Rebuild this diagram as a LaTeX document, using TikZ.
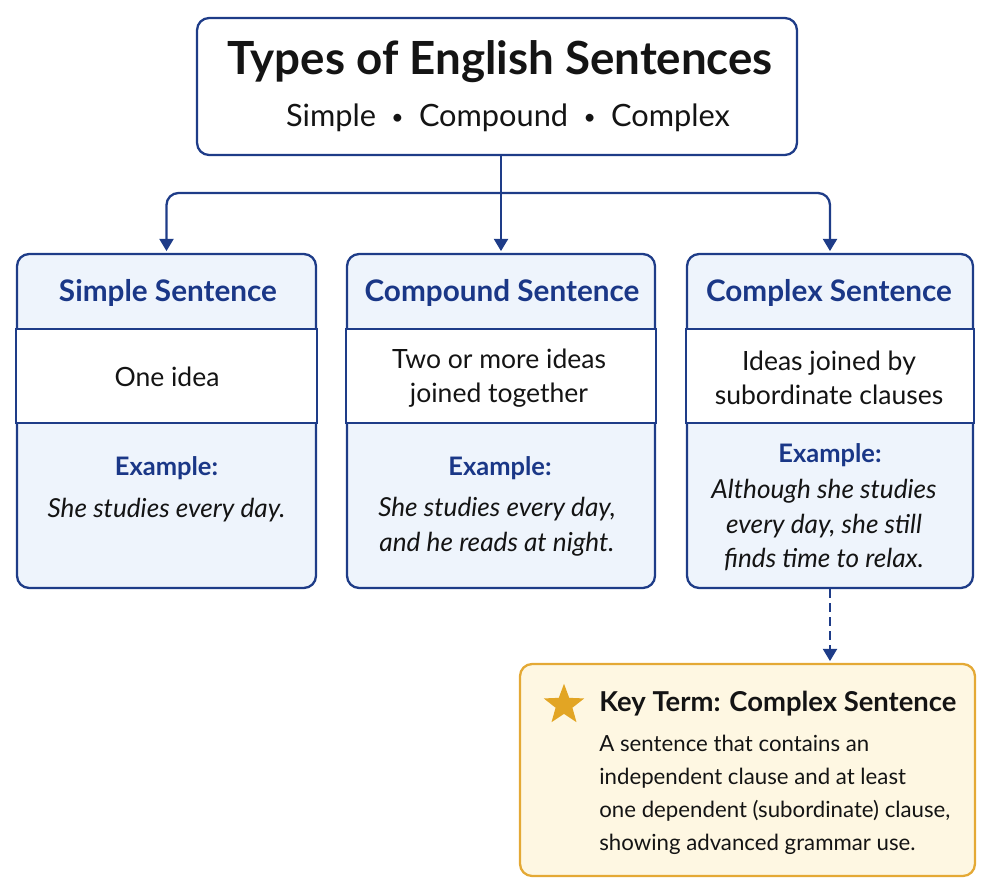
\documentclass[tikz,border=0pt]{standalone}
\usepackage{fontspec}
\setmainfont{Lato}
\usetikzlibrary{arrows.meta,shapes.geometric}
\definecolor{navy}{HTML}{1E3C88}
\definecolor{headblue}{HTML}{1A3787}
\definecolor{paleblue}{HTML}{EEF4FC}
\definecolor{cream}{HTML}{FEF7E2}
\definecolor{amber}{HTML}{E4A935}
\definecolor{gold}{HTML}{E2A524}
\definecolor{ink}{HTML}{141414}
\newcommand{\dotsep}{\enspace{\fontsize{12}{12}\selectfont\raisebox{0.12em}{•}}\enspace}
\begin{document}
\begin{tikzpicture}
    [%%%%%%%%%%%%%%%%%%%%%%%%%%%%%%
        x=0.02cm, y=-0.02cm,
        titlebox/.style={rectangle,draw=navy,line width=1.3pt,rounded corners=0.24cm,fill=white},
        card/.style={rectangle,draw=navy,line width=1.3pt,rounded corners=0.24cm,fill=paleblue},
        band/.style={draw=navy,line width=1.3pt,fill=white},
        keybox/.style={rectangle,draw=amber,line width=1.3pt,rounded corners=0.24cm,fill=cream},
        maintitle/.style={font=\bfseries\fontsize{26}{30}\selectfont,text=ink},
        subtitle/.style={font=\fontsize{17.5}{22}\selectfont,text=ink},
        head/.style={font=\bfseries\fontsize{16.9}{21}\selectfont,text=headblue},
        body/.style={font=\fontsize{15.1}{19.4}\selectfont,text=ink,align=center},
        exlabel/.style={font=\bfseries\fontsize{14.5}{18}\selectfont,text=headblue},
        extext/.style={font=\itshape\fontsize{14.9}{19.9}\selectfont,text=ink,align=center},
        keyhead/.style={font=\bfseries\fontsize{15.6}{19}\selectfont,text=ink,inner sep=0pt},
        keybody/.style={font=\fontsize{12.65}{18.8}\selectfont,text=ink,align=left,inner sep=0pt},
        link/.style={draw=navy,line width=1.3pt,-{Triangle[width=8pt,length=7pt]},shorten >=1pt},
    ]%%%%%%%%%%%%%%%%%%%%%%%%%%%%%%
    \useasboundingbox (0,0) rectangle (994,895);

    % title
    \node[titlebox, minimum width=12cm, minimum height=2.74cm] (title) at (497,86.5) {};
    \node[maintitle] (titletext) at (500,62) {Types of English Sentences};
    \node[subtitle] (subtext) at (508,118) {Simple\dotsep Compound\dotsep Complex};

    % the three cards
    \node[card, minimum width=5.98cm, minimum height=6.68cm] (simple) at (166.5,421) {};
    \node[card, minimum width=6.16cm, minimum height=6.68cm] (compound) at (501,421) {};
    \node[card, minimum width=5.72cm, minimum height=6.68cm] (complex) at (830,421) {};

    \draw[band] (simple.west |- 0,329) rectangle (simple.east |- 0,423);
    \draw[band] (compound.west |- 0,329) rectangle (compound.east |- 0,423);
    \draw[band] (complex.west |- 0,329) rectangle (complex.east |- 0,423);

    \node[head] (simplehead) at (168,293) {Simple Sentence};
    \node[body] (simpleidea) at (167,377) {One idea};
    \node[exlabel] (simpleex) at (166.5,468) {Example:};
    \node[extext] (simpletext) at (166.5,510) {She studies every day.};

    \node[head] (compoundhead) at (502,293) {Compound Sentence};
    \node[body] (compoundidea) at (499,378) {Two or more ideas\\joined together};
    \node[exlabel] (compoundex) at (500,468) {Example:};
    \node[extext] (compoundtext) at (497,527) {She studies every day,\\and he reads at night.};

    \node[head] (complexhead) at (829,293) {Complex Sentence};
    \node[body] (compleximea) at (829,378) {Ideas joined by\\subordinate clauses};
    \node[exlabel] (complexex) at (830,455) {Example:};
    \node[extext] (complextext) at (824,525) {Although she studies\\every day, she still\\finds time to relax.};

    % connectors
    \coordinate (hub) at (500,193);
    \draw[link] (title.south -| compound.north) -- (compound.north);
    \draw[link,rounded corners=0.24cm] (hub) -| (simple.north);
    \draw[link,rounded corners=0.24cm] (hub) -| (complex.north);

    % key term
    \node[keybox, minimum width=9.1cm, minimum height=4.24cm] (key) at (747.5,770) {};
    \draw[link,dash pattern=on 5pt off 3pt] (complex.south) -- (complex.south |- key.north);
    \node[star,star points=5,star point ratio=2.4,fill=gold,minimum size=0.85cm,inner sep=0pt] (keystar) at (564,705) {};
    \node[keyhead,anchor=west] (keytitle) at (599,704) {Key Term: Complex Sentence};
    \node[keybody,anchor=north west] (keytext) at (599,735) {A sentence that contains an\\independent clause and at least\\one dependent (subordinate) clause,\\showing advanced grammar use.};
\end{tikzpicture}
\end{document}
